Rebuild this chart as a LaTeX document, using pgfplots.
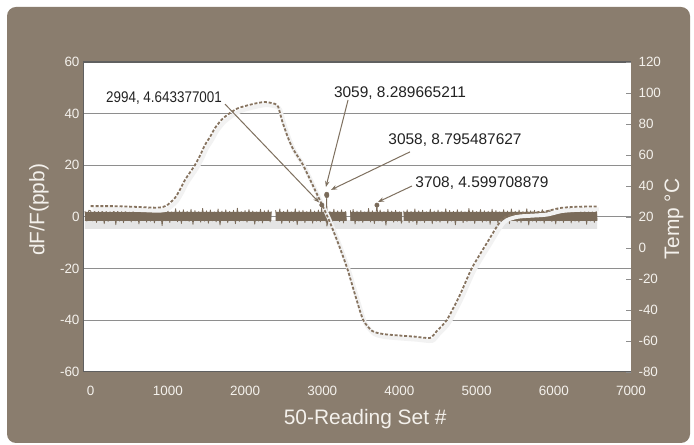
\documentclass[border=0pt]{standalone}
\usepackage{fontspec}
\setmainfont{Liberation Sans}
\usepackage{graphicx}
\usepackage{pgfplots}
\pgfplotsset{compat=1.18}
\usetikzlibrary{arrows.meta}
\definecolor{framecol}{HTML}{8A7D6E}
\definecolor{bandcol}{HTML}{7A6B5A}
\definecolor{tempcol}{HTML}{86735F}
\definecolor{arrowcol}{HTML}{7E705F}
\definecolor{ticklab}{HTML}{F4F1EC}
\definecolor{bordercol}{HTML}{606060}
\definecolor{gridcol}{HTML}{8E8E8E}
\definecolor{shadowcol}{HTML}{E4E4E4}
\definecolor{annot}{HTML}{222222}
\pgfplotsset{
  base/.style={scale only axis, width=548bp, height=310bp,
    at={(83bp,73bp)}, anchor=south west, xmin=-100, xmax=7000,
    /pgf/number format/assume math mode=true,
    /pgf/number format/1000 sep={}, scaled ticks=false},
}
\begin{document}
\begin{tikzpicture}
\fill[white] (0,0) rectangle (694bp,445bp);
\useasboundingbox (0,0) rectangle (694bp,445bp);
\fill[framecol, rounded corners=9bp] (7bp,2bp) rectangle (690bp,438bp);
% ---------- axis 1: dF/F ----------
\begin{axis}[base, ymin=-60, ymax=60,
  ytick={-60,-40,...,60}, xtick={0,1000,...,7000},
  axis line style={draw=none}, major tick length=0pt,
  ymajorgrids, grid style={color=gridcol, line width=1bp},
  axis background/.style={fill=white},
  tick label style={font=\fontsize{13.5}{15}\selectfont, text=ticklab},
  xticklabel style={yshift=-11bp},
  xlabel={50-Reading Set \#},
  xlabel style={font=\fontsize{21}{24}\selectfont, text=ticklab,
    at={(axis description cs:0.515,-0.153)}, anchor=center},
  ylabel={dF/F(ppb)},
  ylabel style={font=\fontsize{21}{24}\selectfont, text=ticklab,
    at={(axis description cs:-0.0803,0.523)}, anchor=center},
  unbounded coords=jump]
\addplot[fill=shadowcol, draw=none] coordinates {(-75,-1.2)(6560,-1.2)(6560,-4.6)(-75,-4.6)(-75,-1.2)};
% solid core of the noise band (segments between the gaps)
\addplot[fill=bandcol, draw=none] coordinates {(-75,2.0)(2340,2.0)(2340,-1.5)(-75,-1.5)(-75,2.0)};
\addplot[fill=bandcol, draw=none] coordinates {(2395,2.0)(3312,2.0)(3312,-1.5)(2395,-1.5)(2395,2.0)};
\addplot[fill=bandcol, draw=none] coordinates {(3365,2.0)(4035,2.0)(4035,-1.5)(3365,-1.5)(3365,2.0)};
\addplot[fill=bandcol, draw=none] coordinates {(4055,2.0)(6560,2.0)(6560,-1.5)(4055,-1.5)(4055,2.0)};
\addplot[bandcol, line width=0.8bp, line join=round] coordinates {
(-75,2.3)(-50,-1.6)(-25,2.6)
(0,2.4)(25,-1.5)(50,2.9)(75,-2.1)(100,2.2)(125,-1.3)(150,3.1)(175,-2.6)(200,2.5)(225,-1.7)
(250,2.1)(275,-1.4)(300,3.3)(325,-3.0)(350,2.6)(375,-1.6)(400,2.3)(425,-2.2)(450,2.8)(475,-1.2)
(500,2.0)(525,-1.9)(550,3.0)(575,-1.5)(600,2.4)(625,-2.7)(650,2.7)(675,-1.3)(700,2.2)(725,-2.0)
(750,3.4)(775,-1.6)(800,2.5)(825,-2.3)(850,2.1)(875,-1.4)(900,2.9)(925,-3.3)(950,2.3)(975,-1.5)
(1000,2.6)(1025,-2.1)(1050,2.0)(1075,-1.2)(1100,3.2)(1125,-1.8)(1150,2.4)(1175,-2.5)(1200,2.8)(1225,-1.4)
(1250,2.2)(1275,-1.7)(1300,3.0)(1325,-2.9)(1350,2.5)(1375,-1.3)(1400,2.1)(1425,-2.0)(1450,3.3)(1475,-1.6)
(1500,2.4)(1525,-2.4)(1550,2.7)(1575,-1.5)(1600,2.0)(1625,-1.9)(1650,3.1)(1675,-3.1)(1700,2.3)(1725,-1.4)
(1750,2.8)(1775,-2.2)(1800,2.2)(1825,-1.3)(1850,2.6)(1875,-2.6)(1900,3.4)(1925,-1.7)(1950,2.1)(1975,-1.5)
(2000,2.5)(2025,-2.0)(2050,2.9)(2075,-1.2)(2100,2.3)(2125,-2.8)(2150,2.0)(2175,-1.6)(2200,3.0)(2225,-2.3)
(2250,2.4)(2275,-1.4)(2300,2.7)(2325,-1.9)(2340,2.2)(2350,nan)
(2395,2.6)(2425,-1.5)(2450,3.1)(2475,-2.5)
(2500,2.2)(2525,-1.3)(2550,2.8)(2575,-2.1)(2600,2.0)(2625,-1.7)(2650,3.2)(2675,-3.0)(2700,2.4)(2725,-1.5)
(2750,2.6)(2775,-2.2)(2800,2.1)(2825,-1.4)(2850,2.9)(2875,-2.4)(2900,2.3)(2925,-1.6)(2950,2.7)(2975,-1.9)
(2994,4.643377001)(3000,-1.4)(3025,2.5)(3050,-2.0)(3058,8.795487627)(3059,8.289665211)(3060,-3.5)(3075,-1.7)
(3100,2.2)(3125,-2.6)(3150,3.0)(3175,-1.3)(3200,2.4)(3225,-1.8)(3250,2.8)(3275,-2.3)(3300,2.1)(3312,-1.5)(3320,nan)
(3365,2.6)(3375,-1.4)(3400,2.9)(3425,-2.7)(3450,2.3)(3475,-1.6)
(3500,2.5)(3525,-2.1)(3550,2.0)(3575,-1.2)(3600,3.3)(3625,-1.9)(3650,2.4)(3675,-2.5)(3700,2.2)(3708,4.599708879)(3725,-1.5)
(3750,2.7)(3775,-1.7)(3800,2.1)(3825,-3.2)(3850,2.9)(3875,-1.4)(3900,2.3)(3925,-2.0)(3950,2.6)(3975,-1.6)
(4000,2.0)(4025,-2.4)(4035,-1.5)(4040,nan)(4055,2.4)
(4075,-1.3)(4100,2.8)(4125,-2.2)(4150,2.2)(4175,-1.8)(4200,3.1)(4225,-2.9)
(4250,2.4)(4275,-1.5)(4300,2.6)(4325,-2.1)(4350,2.0)(4375,-1.4)(4400,3.0)(4425,-2.6)(4450,2.3)(4475,-1.7)
(4500,2.7)(4525,-2.0)(4550,2.1)(4575,-1.3)(4600,3.2)(4625,-2.4)(4650,2.5)(4675,-1.6)(4700,2.2)(4725,-3.0)
(4750,2.8)(4775,-1.4)(4800,2.3)(4825,-2.2)(4850,2.0)(4875,-1.8)(4900,3.3)(4925,-1.5)(4950,2.6)(4975,-2.5)
(5000,2.1)(5025,-1.3)(5050,2.9)(5075,-2.0)(5100,2.4)(5125,-1.6)(5150,2.2)(5175,-2.8)(5200,3.0)(5225,-1.4)
(5250,2.5)(5275,-2.3)(5300,2.0)(5325,-1.7)(5350,2.8)(5375,-1.5)(5400,2.3)(5425,-2.6)(5450,3.1)(5475,-1.3)
(5500,2.2)(5525,-1.9)(5550,2.7)(5575,-2.2)(5600,2.1)(5625,-1.4)(5650,3.2)(5675,-3.1)(5700,2.4)(5725,-1.6)
(5750,2.6)(5775,-2.0)(5800,2.2)(5825,-1.5)(5850,2.9)(5875,-2.4)(5900,2.3)(5925,-1.3)(5950,2.8)(5975,-1.8)
(6000,2.1)(6025,-2.7)(6050,3.0)(6075,-1.5)(6100,2.5)(6125,-2.1)(6150,2.0)(6175,-1.4)(6200,3.3)(6225,-2.3)
(6250,2.4)(6275,-1.6)(6300,2.7)(6325,-2.0)(6350,2.2)(6375,-1.4)(6400,3.1)(6425,-2.8)(6450,2.5)(6475,-1.5)
(6500,2.3)(6525,-2.1)(6550,2.8)(6560,-1.4)
};
\draw[bordercol, line width=1.3bp] (rel axis cs:1,1) -- (rel axis cs:0,1) -- (rel axis cs:0,0) -- (rel axis cs:1,0);
\end{axis}
% ---------- axis 2: temperature ----------
\begin{axis}[base, ymin=-80, ymax=120,
  hide x axis, axis y line*=right, axis line style={draw=none},
  ytick={-80,-60,...,120}, ytick pos=right, tick align=inside,
  major tick length=5bp, tick style={color=gridcol, line width=0.8bp},
  yticklabel style={font=\fontsize{13.5}{15}\selectfont, text=ticklab, xshift=4bp},
  ylabel={Temp °C},
  ylabel style={font=\fontsize{21}{24}\selectfont, text=ticklab,
    at={(axis description cs:1.0785,0.494)}, anchor=center}]
\addplot[white!95!black, line width=4bp, xshift=2bp, yshift=-3bp, smooth, tension=0.4] coordinates {
(0,27)(300,27)(600,26.5)(850,26)(937,26.5)(1000,28)(1092,32.3)(1160,38)(1221,43.9)(1290,49)(1351,53.6)(1420,60)(1480,66.5)(1550,72)(1610,77.4)(1700,83)(1804,87.1)(1900,90)(2000,91.6)(2130,93.2)(2258,94.2)(2387,93)(2430,91)(2480,82)(2550,72)(2620,64)(2750,53.6)(2906,37.4)(3075,19.4)(3205,3.2)(3322,-12.9)(3426,-30.3)(3530,-46.4)(3646,-53.5)(3788,-55.5)(4007,-56.5)(4200,-57.2)(4397,-58)(4485,-53.5)(4615,-46.4)(4783,-30.3)(4939,-12.9)(5133,3.2)(5328,18.5)(5496,22)(5690,22.8)(5885,23.5)(6079,25.8)(6300,26.6)(6558,26.8)
};
\addplot[tempcol, line width=1.8bp, dash pattern=on 3bp off 1.8bp, smooth, tension=0.4] coordinates {
(0,27)(300,27)(600,26.5)(850,26)(937,26.5)(1000,28)(1092,32.3)(1160,38)(1221,43.9)(1290,49)(1351,53.6)(1420,60)(1480,66.5)(1550,72)(1610,77.4)(1700,83)(1804,87.1)(1900,90)(2000,91.6)(2130,93.2)(2258,94.2)(2387,93)(2430,91)(2480,82)(2550,72)(2620,64)(2750,53.6)(2906,37.4)(3075,19.4)(3205,3.2)(3322,-12.9)(3426,-30.3)(3530,-46.4)(3646,-53.5)(3788,-55.5)(4007,-56.5)(4200,-57.2)(4397,-58)(4485,-53.5)(4615,-46.4)(4783,-30.3)(4939,-12.9)(5133,3.2)(5328,18.5)(5496,22)(5690,22.8)(5885,23.5)(6079,25.8)(6300,26.6)(6558,26.8)
};
\end{axis}
% ---------- axis 3: annotations ----------
\begin{axis}[base, ymin=-60, ymax=60, hide axis]
\addplot[only marks, mark=*, mark size=2.2bp, color=bandcol] coordinates {
(2994,4.643377001)(3058,8.795487627)(3059,8.289665211)(3708,4.599708879)};
\begin{scope}[font=\fontsize{15.5}{17}\selectfont, text=annot]
\node at (axis cs:950,46.1) {\scalebox{0.87}[1]{2994, 4.643377001}};
\node at (axis cs:4007,48.0) {3059, 8.289665211};
\node at (axis cs:4720,29.8) {3058, 8.795487627};
\node at (axis cs:5070,13.2) {3708, 4.599708879};
\end{scope}
\begin{scope}[arrowcol, line width=1bp, -{Stealth[length=6bp,width=4.5bp]}]
\draw (axis cs:1740,43.7) -- (axis cs:2960,5.6);
\draw (axis cs:3334,45.3) -- (axis cs:3047,11.6);
\draw (axis cs:4136,25.2) -- (axis cs:3113,10.5);
\draw (axis cs:4162,12.0) -- (axis cs:3722,5.8);
\end{scope}
\end{axis}
\end{tikzpicture}
\end{document}
